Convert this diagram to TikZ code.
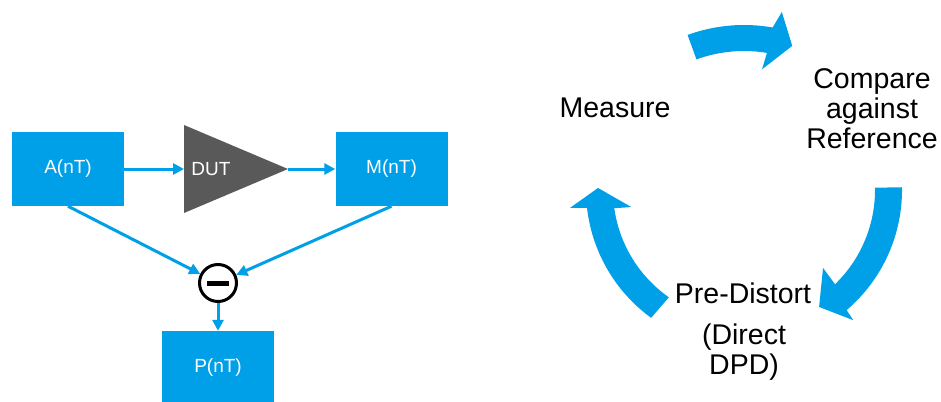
\documentclass[tikz,border=0pt]{standalone}
\usepackage{fontspec}
\setmainfont{Liberation Sans}
\usetikzlibrary{arrows.meta}
\definecolor{dpdblue}{RGB}{0,160,233}
\definecolor{dutgray}{RGB}{89,89,89}
\tikzset{
  blockbox/.style={fill=dpdblue, draw=none, minimum width=112pt, minimum height=74pt, inner sep=0pt, text=white, font=\fontsize{19}{22}\selectfont},
  flow/.style={draw=dpdblue, line width=3pt, -{Triangle[length=11pt,width=11pt]}},
  cyclearrow/.style={fill=dpdblue, draw=none},
  cycletext/.style={text=black, align=center, inner sep=0pt, font=\fontsize{28.5}{30}\selectfont}
}
\begin{document}
\begin{tikzpicture}[x=1pt,y=-1pt]
\useasboundingbox (0,0) rectangle (941,401);
% left block diagram
\node[blockbox] (A) at (68,169) {A(nT)};
\node[blockbox] (M) at (391.5,169) {M(nT)};
\node[blockbox] (P) at (218,368) {P(nT)};
\fill[dutgray] (184,125) -- (288,169) -- (184,213) -- cycle;
\coordinate (dutin) at (184,169);
\coordinate (dutout) at (288,169);
\node[text=white, inner sep=0pt, font=\fontsize{19}{22}\selectfont] (dut) at (211,169) {DUT};
\node[circle, draw=black, fill=white, line width=3pt, minimum size=37pt, inner sep=0pt] (sub) at (218,283) {};
\fill[black] (207,281) rectangle (229,285.5);
\draw[flow] (A.east) -- (dutin);
\draw[flow] (dutout) -- (M.west);
\draw[flow] (A.south) -- (sub);
\draw[flow] (M.south) -- (sub);
\draw[flow] (sub) -- (P.north);
% right cycle
\begin{scope}[shift={(744,190)}]
\fill[cyclearrow] (110:165pt) arc[start angle=110, end angle=80, radius=165pt]
  -- (78:182pt) -- (71.5:152pt) -- (81.5:122pt) -- (80.5:139pt)
  arc[start angle=80.5, end angle=110, radius=139pt] -- cycle;
\fill[cyclearrow] (1:158pt) arc[start angle=1, end angle=-49.5, radius=158pt]
  -- (-50:170pt) -- (-57.3:139pt) -- (-44.6:111pt) -- (-46:131pt)
  arc[start angle=-46, end angle=1, radius=131pt] -- cycle;
\fill[cyclearrow] (234:158pt) arc[start angle=234, end angle=186.5, radius=158pt]
  -- (185.9:175pt) -- (179.2:146pt) -- (188.6:114pt) -- (188:131pt)
  arc[start angle=188, end angle=235, radius=131pt] -- cycle;
\end{scope}
\node[cycletext] (measure) at (615,108) {Measure};
\node[cycletext] (compare) at (872,109) {Compare\\against\\Reference};
\node[cycletext] (predist) at (743,293) {Pre-Distort};
\node[cycletext] (direct) at (744,352) {(Direct\\DPD)};
\end{tikzpicture}
\end{document}
